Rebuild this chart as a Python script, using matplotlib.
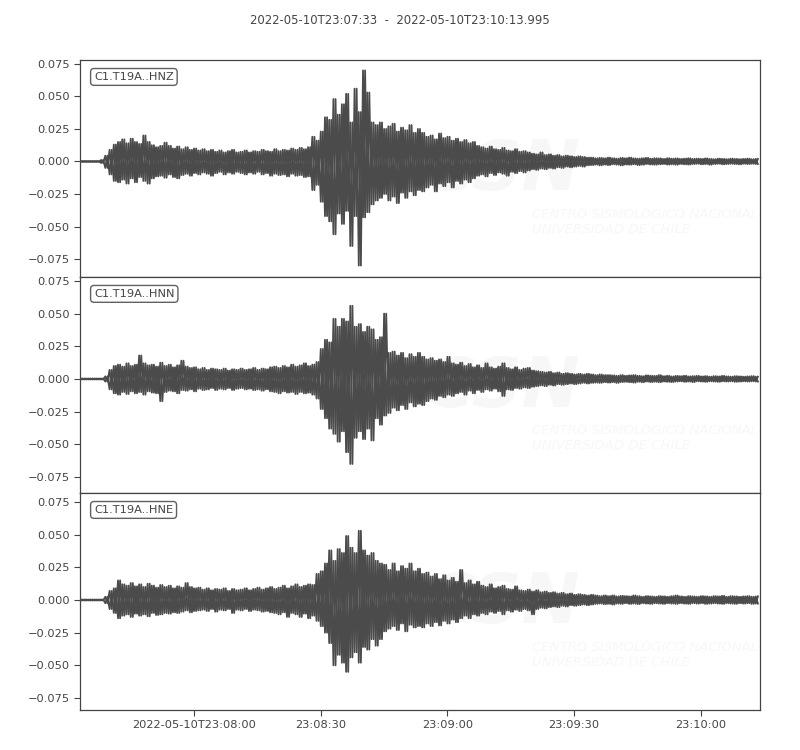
import datetime as dt
import numpy as np
import matplotlib
matplotlib.use("Agg")
import matplotlib.pyplot as plt
import matplotlib.dates as mdates
from matplotlib.ticker import FuncFormatter

# ---------------- data ----------------
start_time = dt.datetime(2022, 5, 10, 23, 7, 33)
end_offset = 160.995          # seconds
title_text = "2022-05-10T23:07:33  -  2022-05-10T23:10:13.995"
channels = ["C1.T19A..HNZ", "C1.T19A..HNN", "C1.T19A..HNE"]
y_ticks = [-0.075, -0.050, -0.025, 0.000, 0.025, 0.050, 0.075]
x_tick_offsets = [27, 57, 87, 117, 147]   # 23:08:00 ... 23:10:00

# per-second positive / negative peak amplitude, in units of 1e-4, t = 0..160 s
hnz_hi = [4, 4, 4, 4, 4, 12, 45, 90, 130, 150, 170, 140, 175, 150, 135, 200, 150, 125, 110, 120,
          145, 120, 100, 115, 95, 110, 90, 100, 85, 95, 80, 90, 75, 85, 70, 80, 90, 70, 75, 85,
          70, 80, 75, 90, 80, 75, 95, 80, 90, 85, 100, 90, 105, 95, 110, 190, 160, 230, 340, 320,
          480, 360, 440, 520, 300, 560, 380, 700, 530, 300, 280, 300, 250, 270, 290, 230, 260, 240, 280, 220,
          250, 220, 190, 200, 170, 215, 180, 190, 160, 175, 150, 165, 140, 150, 120, 110, 100, 115, 95, 90,
          105, 85, 80, 95, 75, 80, 70, 60, 55, 70, 50, 55, 45, 50, 40, 45, 40, 35, 40, 35,
          30, 30, 25, 28, 25, 30, 25, 22, 28, 25, 30, 24, 22, 25, 28, 22, 25, 24, 20, 25,
          22, 24, 20, 22, 25, 20, 22, 20, 24, 20, 18, 22, 20, 18, 22, 20, 18, 20, 22, 18, 20]
hnz_lo = [-4, -4, -4, -4, -4, -12, -50, -100, -150, -160, -140, -170, -130, -160, -120, -150, -170, -130, -115, -110,
          -125, -100, -120, -130, -105, -95, -110, -90, -100, -85, -95, -110, -90, -80, -100, -85, -95, -80, -90, -100,
          -85, -95, -80, -100, -90, -110, -95, -105, -100, -115, -95, -110, -105, -120, -115, -220, -180, -310, -420, -460,
          -560, -400, -480, -380, -650, -420, -800, -430, -390, -330, -300, -280, -250, -300, -270, -320, -240, -280, -230, -260,
          -220, -230, -200, -180, -230, -170, -190, -160, -200, -150, -170, -140, -160, -130, -110, -100, -115, -90, -105, -85,
          -95, -110, -80, -90, -75, -85, -70, -60, -65, -55, -60, -50, -55, -45, -50, -40, -45, -40, -35, -40,
          -30, -28, -25, -30, -25, -28, -22, -25, -30, -24, -25, -22, -28, -25, -20, -24, -25, -22, -20, -24,
          -22, -25, -20, -22, -24, -20, -18, -22, -20, -25, -20, -18, -22, -20, -18, -20, -22, -18, -20, -18, -20]

hnn_hi = [4, 4, 4, 4, 4, 4, 20, 70, 100, 110, 95, 120, 100, 110, 180, 120, 105, 110, 95, 125,
          100, 110, 90, 105, 140, 95, 85, 90, 75, 85, 70, 80, 75, 70, 80, 65, 75, 70, 80, 70,
          75, 85, 70, 80, 75, 90, 95, 85, 100, 90, 110, 95, 105, 120, 100, 110, 130, 230, 300, 280,
          460, 400, 460, 440, 560, 400, 420, 360, 400, 380, 300, 320, 500, 200, 210, 180, 200, 160, 190, 170,
          200, 170, 150, 160, 140, 150, 130, 170, 120, 110, 125, 100, 115, 90, 105, 85, 120, 90, 80, 95,
          120, 85, 75, 90, 70, 80, 85, 65, 60, 55, 50, 55, 45, 50, 40, 45, 40, 35, 40, 35,
          40, 35, 30, 35, 30, 30, 28, 25, 30, 25, 28, 30, 25, 22, 28, 25, 24, 30, 22, 25,
          20, 24, 22, 25, 20, 22, 24, 20, 22, 18, 22, 20, 24, 20, 18, 22, 20, 18, 20, 22, 18]
hnn_lo = [-4, -4, -4, -4, -4, -4, -20, -80, -110, -120, -100, -115, -95, -110, -100, -120, -95, -105, -110, -170,
          -100, -90, -95, -110, -85, -90, -80, -95, -75, -85, -80, -70, -85, -75, -80, -70, -85, -75, -70, -80,
          -75, -85, -80, -90, -80, -95, -100, -110, -95, -105, -100, -115, -100, -110, -105, -120, -150, -230, -300, -380,
          -420, -480, -400, -560, -650, -450, -400, -460, -380, -470, -300, -350, -280, -260, -220, -240, -200, -230, -180, -210,
          -190, -200, -170, -150, -160, -130, -140, -120, -130, -110, -100, -120, -90, -110, -85, -100, -80, -90, -75, -95,
          -130, -80, -85, -70, -75, -65, -70, -60, -55, -50, -55, -45, -50, -40, -45, -40, -35, -40, -35, -30,
          -35, -30, -28, -30, -25, -28, -25, -30, -24, -22, -25, -28, -22, -25, -20, -24, -22, -25, -20, -22,
          -24, -20, -18, -22, -20, -24, -18, -20, -22, -18, -20, -22, -18, -20, -18, -22, -20, -18, -20, -18, -20]

hne_hi = [4, 4, 4, 4, 4, 4, 25, 70, 90, 150, 120, 110, 130, 105, 120, 100, 125, 110, 95, 115,
          100, 110, 90, 105, 95, 130, 100, 90, 95, 80, 90, 75, 85, 80, 90, 70, 85, 75, 80, 90,
          75, 85, 95, 80, 90, 100, 85, 95, 110, 90, 105, 120, 100, 110, 120, 115, 200, 220, 280, 380,
          300, 390, 360, 490, 400, 360, 530, 380, 340, 360, 300, 280, 270, 230, 280, 220, 260, 240, 280, 220,
          240, 200, 210, 180, 200, 160, 190, 150, 170, 140, 230, 130, 150, 120, 140, 110, 100, 120, 90, 100,
          110, 85, 80, 105, 75, 70, 80, 65, 75, 60, 65, 55, 60, 50, 55, 45, 50, 40, 45, 40,
          35, 40, 35, 30, 35, 30, 35, 28, 32, 30, 28, 35, 30, 25, 30, 28, 25, 30, 28, 25,
          30, 35, 28, 25, 30, 28, 25, 30, 28, 25, 30, 28, 32, 25, 30, 28, 25, 28, 30, 25, 28]
hne_lo = [-4, -4, -4, -4, -4, -4, -25, -70, -100, -140, -120, -110, -130, -105, -120, -110, -125, -100, -115, -110,
          -100, -105, -95, -100, -90, -80, -95, -85, -80, -75, -85, -70, -90, -75, -80, -70, -100, -75, -80, -70,
          -85, -75, -80, -90, -85, -95, -100, -110, -95, -130, -100, -110, -130, -105, -140, -120, -160, -200, -250, -330,
          -500, -420, -480, -550, -440, -400, -480, -360, -380, -300, -350, -300, -240, -220, -200, -230, -180, -240, -190, -210,
          -200, -210, -180, -200, -170, -195, -160, -180, -150, -170, -140, -120, -140, -110, -120, -100, -110, -90, -100, -85,
          -110, -80, -90, -75, -85, -70, -80, -110, -70, -60, -65, -55, -50, -55, -45, -50, -40, -45, -40, -35,
          -40, -35, -30, -28, -32, -30, -35, -28, -30, -25, -30, -28, -32, -25, -28, -30, -25, -28, -30, -25,
          -28, -30, -25, -28, -30, -25, -28, -25, -30, -28, -25, -28, -30, -25, -28, -30, -25, -28, -25, -30, -28]

y_limits = [(-0.0888, 0.078), (-0.0872, 0.078), (-0.0842, 0.0819)]

# ---------------- style ----------------
TRACE = "#4b4b4b"
FG = "#444444"
FS = 8.2
plt.rcParams["font.family"] = ["DejaVu Sans"]
plt.rcParams["axes.unicode_minus"] = True

fig = plt.figure(figsize=(8.0, 7.5), dpi=100)
left, right = 80 / 800, 760 / 800
tops = [60, 277, 493]
bottoms = [277, 493, 710]

t0num = mdates.date2num(start_time)
sec = 1.0 / 86400.0

def fmt_time(x, pos):
    d = mdates.num2date(x).replace(tzinfo=None)
    d = d + dt.timedelta(microseconds=500)
    if pos == 0:
        return d.strftime("%Y-%m-%dT%H:%M:%S")
    return d.strftime("%H:%M:%S")

traces = [(hnz_hi, hnz_lo), (hnn_hi, hnn_lo), (hne_hi, hne_lo)]
axes = []
for i, (hi, lo) in enumerate(traces):
    ax = fig.add_axes([left, 1 - bottoms[i] / 750, right - left, (bottoms[i] - tops[i]) / 750])
    axes.append(ax)
    hi_a = np.asarray(hi) * 1e-4
    lo_a = np.asarray(lo) * 1e-4
    n = len(hi_a)
    secs = np.arange(n, dtype=float)
    # zig-zag traces through the peak values (hi at t, lo at t+0.5 and vice versa)
    xs = np.empty(2 * n)
    xs[0::2] = secs
    xs[1::2] = secs + 0.5
    y1 = np.empty(2 * n)
    y1[0::2] = hi_a
    y1[1::2] = lo_a
    y2 = np.empty(2 * n)
    y2[0::2] = lo_a
    y2[1::2] = hi_a
    xd = t0num + xs * sec
    ax.plot(xd, y1, color=TRACE, lw=1.3, zorder=3, solid_joinstyle="round")
    ax.plot(xd, y2, color=TRACE, lw=1.3, zorder=3, solid_joinstyle="round")

    ax.set_xlim(t0num, t0num + end_offset * sec)
    ax.set_ylim(*y_limits[i])
    ax.set_yticks(y_ticks)
    ax.tick_params(axis="y", direction="out", length=4, width=0.8, colors=FG, labelsize=FS)
    ax.set_xticks([t0num + s * sec for s in x_tick_offsets])
    if i < 2:
        ax.tick_params(axis="x", bottom=False, labelbottom=False)
    else:
        ax.xaxis.set_major_formatter(FuncFormatter(fmt_time))
        ax.tick_params(axis="x", direction="out", length=4, width=0.8, colors=FG, labelsize=FS)
    for sp in ax.spines.values():
        sp.set_color(FG)
        sp.set_linewidth(0.9)

    # faint watermark
    ax.text(0.62, 0.49, "CSN", transform=ax.transAxes, fontsize=50, fontweight="bold",
            fontstyle="italic", color="#f7f7f7", ha="center", va="center", zorder=0)
    ax.text(0.665, 0.255, "CENTRO SISMOLÓGICO NACIONAL\nUNIVERSIDAD DE CHILE", transform=ax.transAxes,
            fontsize=9.5, fontstyle="italic", color="#f7f7f7", ha="left", va="center",
            linespacing=1.2, zorder=0)

    ax.text(0.0206, 0.945, channels[i], transform=ax.transAxes, fontsize=FS, color=FG,
            ha="left", va="top", zorder=5,
            bbox=dict(boxstyle="round,pad=0.3", fc="white", ec="#606060", lw=1.0))

fig.text(0.5, 1 - 20 / 750, title_text, ha="center", va="center", fontsize=8.4, color=FG)

fig.savefig("out.png", dpi=100, facecolor="white")
